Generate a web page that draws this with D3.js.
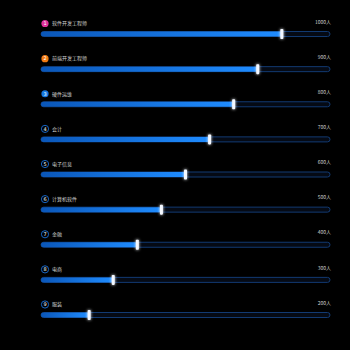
<!DOCTYPE html>
<html>
<head>
<meta charset="utf-8">
<script src="https://cdn.jsdelivr.net/npm/d3@7"></script>
<style>
  html, body { margin: 0; padding: 0; background: #000; }
  svg { display: block; }
</style>
</head>
<body>
<div id="chart"></div>
<script>
// Job categories and headcounts
const categories = ["软件开发工程师", "前端开发工程师", "硬件运维", "会计", "电子信息", "计算机软件", "金融", "电商", "服装"];
const values = [1000, 900, 800, 700, 600, 500, 400, 300, 200];
const maxValue = 1200;
const unit = "人";
const badgeColors = ["#e0309a", "#f07a12", "#1577e0"];

const W = 350, H = 350;
const svg = d3.select("#chart").append("svg")
  .attr("width", W).attr("height", H)
  .style("background", "#000");

const defs = svg.append("defs");
const grad = defs.append("linearGradient").attr("id", "barGrad")
  .attr("x1", "0%").attr("x2", "100%").attr("y1", "0").attr("y2", "0");
grad.append("stop").attr("offset", "0%").attr("stop-color", "#0a56b8");
grad.append("stop").attr("offset", "100%").attr("stop-color", "#1f8cff");

const glow = defs.append("filter").attr("id", "glow")
  .attr("x", "-200%").attr("y", "-100%").attr("width", "500%").attr("height", "300%");
glow.append("feGaussianBlur").attr("stdDeviation", 1.6).attr("result", "b");
const merge = glow.append("feMerge");
merge.append("feMergeNode").attr("in", "b");
merge.append("feMergeNode").attr("in", "SourceGraphic");

const x = d3.scaleLinear().domain([0, maxValue]).range([41, 330]);
const y = d3.scaleBand().domain(categories).range([-0.6, 315.5]).paddingInner(0);

const barH = 5;
const bw = y.bandwidth();
const barMid = bw - 0.5;           // vertical centre of each bar inside its band

const rows = svg.selectAll("g.row").data(categories).join("g")
  .attr("class", "row")
  .attr("transform", d => `translate(0,${y(d)})`);

// background track
rows.append("rect")
  .attr("x", x(0)).attr("y", barMid - barH / 2)
  .attr("width", x(maxValue) - x(0)).attr("height", barH)
  .attr("rx", barH / 2)
  .attr("fill", "#050a14")
  .attr("stroke", "#123a72").attr("stroke-width", 1);

// value bar
rows.append("rect")
  .attr("x", x(0)).attr("y", barMid - barH / 2)
  .attr("width", (d, i) => x(values[i]) - x(0)).attr("height", barH)
  .attr("rx", barH / 2)
  .attr("fill", "url(#barGrad)");

// handle at bar end
rows.append("rect")
  .attr("x", (d, i) => x(values[i]) - 1.5)
  .attr("y", barMid - 5)
  .attr("width", 3).attr("height", 10)
  .attr("rx", 0.8)
  .attr("fill", "#f4f8ff")
  .attr("filter", "url(#glow)");

// rank badge
const badgeY = barMid - 10.5;
rows.append("circle")
  .attr("cx", 45).attr("cy", badgeY).attr("r", 3.6)
  .attr("fill", (d, i) => i < 3 ? badgeColors[i] : "#000")
  .attr("stroke", (d, i) => i < 3 ? "none" : "#1a6fd8")
  .attr("stroke-width", 0.9);

rows.append("text")
  .attr("x", 45).attr("y", badgeY)
  .attr("dy", "0.35em")
  .attr("text-anchor", "middle")
  .attr("font-family", "DejaVu Sans, sans-serif")
  .attr("font-size", 5)
  .attr("fill", "#fff")
  .text((d, i) => i + 1);

// category label
rows.append("text")
  .attr("x", 52).attr("y", badgeY)
  .attr("dy", "0.35em")
  .attr("font-family", "Noto Sans CJK SC, sans-serif")
  .attr("font-size", 5)
  .attr("fill", "#d0d0d0")
  .text(d => d);

// value label
rows.append("text")
  .attr("x", 331).attr("y", badgeY - 1.5)
  .attr("dy", "0.35em")
  .attr("text-anchor", "end")
  .attr("font-family", "Noto Sans CJK SC, sans-serif")
  .attr("font-size", 5)
  .attr("fill", "#d0d0d0")
  .text((d, i) => values[i] + unit);
</script>
</body>
</html>
